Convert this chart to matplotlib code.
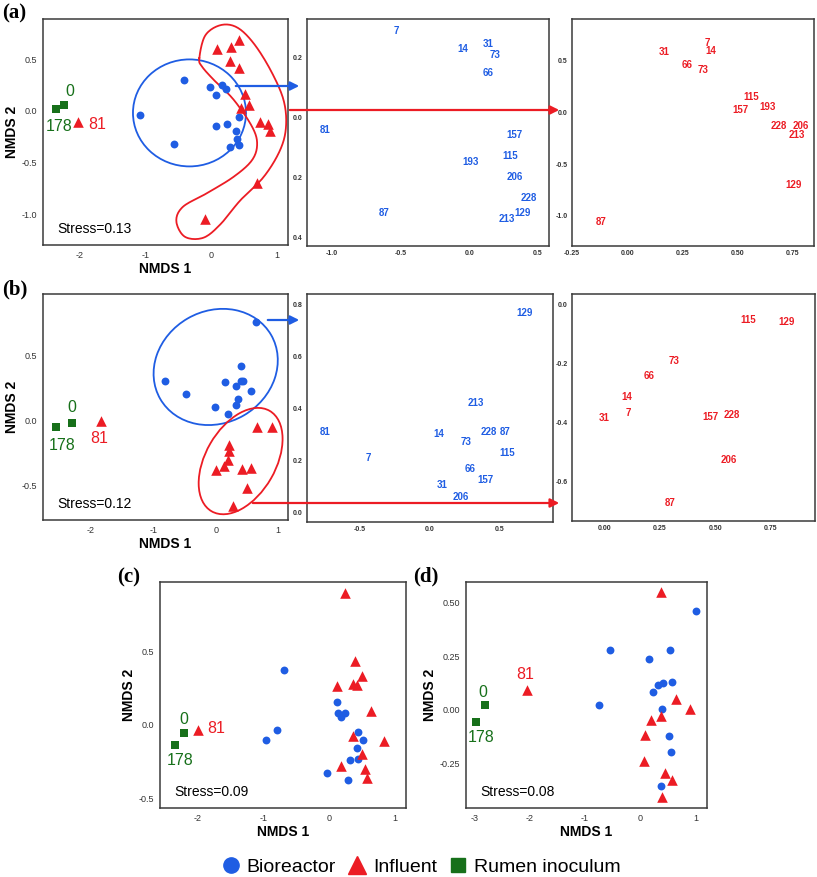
import numpy as np
import matplotlib
matplotlib.use('Agg')
import matplotlib.pyplot as plt
import matplotlib.transforms as mtrans
from matplotlib.patches import Ellipse, FancyArrowPatch
from matplotlib.lines import Line2D

plt.rcParams['font.family'] = ['Liberation Sans', 'DejaVu Sans']
plt.rcParams['axes.unicode_minus'] = False

BLUE = '#1f5de3'
RED = '#ec1c24'
GREEN = '#17701a'
DARK = '#333333'

# ---- (a) ordination of all samples
a_bio_x = [-1.08, -0.42, -0.56, -0.02, 0.07, 0.16, 0.23, 0.08, 0.24, 0.43, 0.38, 0.39, 0.43, 0.28]
a_bio_y = [-0.04, 0.30, -0.32, 0.23, 0.15, 0.25, 0.21, -0.15, -0.13, -0.06, -0.20, -0.27, -0.33, -0.35]
a_inf_x = [-2.03, 0.42, 0.09, 0.30, 0.29, 0.42, 0.52, 0.57, 0.45, 0.75, 0.86, 0.89, 0.70, -0.10]
a_inf_y = [-0.11, 0.69, 0.60, 0.62, 0.48, 0.42, 0.16, 0.06, 0.03, -0.11, -0.13, -0.20, -0.70, -1.05]
a_rum_x = [-2.24, -2.36]
a_rum_y = [0.055, 0.02]

# (a) bioreactor only, sample days
a_bio_ids = ['7', '14', '31', '73', '66', '81', '157', '193', '115', '206', '228', '87', '129', '213']
a_bio_lx = [-0.53, -0.05, 0.14, 0.19, 0.14, -1.05, 0.33, 0.01, 0.30, 0.33, 0.43, -0.62, 0.39, 0.27]
a_bio_ly = [0.29, 0.23, 0.245, 0.21, 0.15, -0.04, -0.06, -0.15, -0.13, -0.20, -0.27, -0.32, -0.32, -0.34]

# (a) influent only
a_inf_ids = ['7', '14', '31', '66', '73', '115', '157', '193', '228', '206', '213', '129', '87']
a_inf_lx = [0.363, 0.376, 0.165, 0.273, 0.345, 0.562, 0.513, 0.637, 0.688, 0.784, 0.769, 0.753, -0.12]
a_inf_ly = [0.67, 0.59, 0.58, 0.46, 0.41, 0.15, 0.02, 0.05, -0.13, -0.135, -0.22, -0.70, -1.06]

# ---- (b)
b_bio_x = [0.64, -0.81, -0.47, 0.41, 0.15, 0.32, 0.40, 0.44, 0.57, 0.35, 0.32, -0.005, 0.20]
b_bio_y = [0.76, 0.31, 0.205, 0.42, 0.30, 0.27, 0.31, 0.31, 0.23, 0.17, 0.125, 0.11, 0.056]
b_inf_x = [-1.84, 0.67, 0.91, 0.21, 0.22, 0.19, 0.14, 0.00, 0.42, 0.56, 0.50, 0.28]
b_inf_y = [-0.005, -0.044, -0.046, -0.185, -0.23, -0.30, -0.35, -0.38, -0.37, -0.36, -0.52, -0.66]
b_rum_x = [-2.30, -2.56]
b_rum_y = [-0.015, -0.046]

b_bio_ids = ['129', '213', '81', '14', '228', '87', '73', '7', '115', '66', '157', '31', '206']
b_bio_lx = [0.68, 0.33, -0.75, 0.06, 0.42, 0.54, 0.26, -0.44, 0.55, 0.29, 0.40, 0.09, 0.22]
b_bio_ly = [0.767, 0.42, 0.31, 0.30, 0.31, 0.31, 0.27, 0.21, 0.23, 0.167, 0.126, 0.106, 0.058]

b_inf_ids = ['115', '129', '73', '66', '14', '7', '31', '157', '228', '206', '87']
b_inf_lx = [0.648, 0.823, 0.315, 0.199, 0.10, 0.105, -0.003, 0.477, 0.574, 0.562, 0.295]
b_inf_ly = [-0.053, -0.06, -0.189, -0.241, -0.311, -0.367, -0.385, -0.379, -0.373, -0.525, -0.672]

# ---- (c)
c_bio_x = [-0.69, -0.79, -0.96, 0.116, 0.137, 0.177, 0.248, 0.445, 0.52, 0.42, 0.32, 0.445, -0.025, 0.29]
c_bio_y = [0.377, -0.036, -0.10, 0.157, 0.082, 0.052, 0.084, -0.048, -0.105, -0.157, -0.243, -0.23, -0.33, -0.38]
c_inf_x = [-1.99, 0.243, 0.395, 0.496, 0.121, 0.36, 0.42, 0.632, 0.37, 0.835, 0.506, 0.177, 0.55, 0.58]
c_inf_y = [-0.034, 0.90, 0.436, 0.336, 0.268, 0.277, 0.273, 0.095, -0.073, -0.109, -0.20, -0.282, -0.302, -0.364]
c_rum_x = [-2.20, -2.34]
c_rum_y = [-0.052, -0.136]

# ---- (d)
d_bio_x = [1.01, -0.54, 0.54, 0.163, 0.32, 0.42, 0.585, 0.23, -0.736, 0.404, 0.525, 0.56, 0.374]
d_bio_y = [0.46, 0.28, 0.276, 0.234, 0.113, 0.126, 0.129, 0.081, 0.019, 0.003, -0.123, -0.20, -0.357]
d_inf_x = [-2.05, 0.374, 0.65, 0.905, 0.374, 0.193, 0.09, 0.066, 0.452, 0.573, 0.398]
d_inf_y = [0.09, 0.551, 0.047, 0.002, -0.028, -0.05, -0.12, -0.242, -0.295, -0.331, -0.41]
d_rum_x = [-2.805, -2.97]
d_rum_y = [0.02, -0.06]

W, H = 817, 877
fig = plt.figure(figsize=(W / 100, H / 100), dpi=100)


def box(x0, y0, x1, y1):
    return fig.add_axes([x0 / W, 1 - y1 / H, (x1 - x0) / W, (y1 - y0) / H])


def frame(ax, small=False):
    for s in ax.spines.values():
        s.set_color('#3a3a3a')
        s.set_linewidth(1.1)
    if small:
        ax.tick_params(length=0, pad=3, labelsize=5, labelcolor=DARK)
        for lab in ax.get_xticklabels() + ax.get_yticklabels():
            lab.set_fontweight('bold')
    else:
        ax.tick_params(length=0, pad=4, labelsize=6.5, labelcolor=DARK)


def main_panel(ax, bx, by, ix, iy, rx, ry, stress):
    ax.scatter(bx, by, s=32, marker='o', color=BLUE, lw=0, zorder=3)
    ax.scatter(ix, iy, s=58, marker='^', color=RED, lw=0, zorder=3)
    ax.scatter(rx, ry, s=26, marker='s', color=GREEN, lw=0, zorder=3)
    ax.text(0.06, 0.07, stress, transform=ax.transAxes, fontsize=10, va='center')
    ax.set_xlabel('NMDS 1', fontsize=10, fontweight='bold', labelpad=2)
    ax.set_ylabel('NMDS 2', fontsize=10, fontweight='bold', labelpad=2)


def ring(ax, cx, cy, w, h, ang, col):
    # ellipse sized in pixels, centred on a data point
    tr = fig.dpi_scale_trans + mtrans.ScaledTranslation(cx, cy, ax.transData)
    ax.add_patch(Ellipse((0, 0), w / 100, h / 100, angle=ang, transform=tr,
                         fill=False, ec=col, lw=1.3, clip_on=False))


def smooth_loop(px, py, n=12):
    P = np.column_stack([px, py])
    m = len(P)
    out = []
    for i in range(m):
        p0, p1, p2, p3 = P[i - 1], P[i], P[(i + 1) % m], P[(i + 2) % m]
        for t in np.linspace(0, 1, n, endpoint=False):
            out.append(0.5 * (2 * p1 + (-p0 + p2) * t + (2 * p0 - 5 * p1 + 4 * p2 - p3) * t * t
                              + (-p0 + 3 * p1 - 3 * p2 + p3) * t ** 3))
    out.append(out[0])
    return np.array(out)


def arrow(x0, y0, x1, y1, col):
    fig.add_artist(FancyArrowPatch((x0 / W, 1 - y0 / H), (x1 / W, 1 - y1 / H),
                                   transform=fig.transFigure, arrowstyle='-|>',
                                   mutation_scale=13, color=col, lw=1.6, zorder=10))


def ids(ax, xs, ys, labels, col):
    for x, y, t in zip(xs, ys, labels):
        ax.text(x, y, t, color=col, fontsize=7, fontweight='bold', ha='center', va='center')


# ================= (a)
ax = box(43, 19, 288, 245)
main_panel(ax, a_bio_x, a_bio_y, a_inf_x, a_inf_y, a_rum_x, a_rum_y, 'Stress=0.13')
ax.set_xlim(-2.56, 1.17)
ax.set_ylim(-1.30, 0.89)
ax.set_xticks([-2, -1, 0, 1])
ax.set_yticks([-1.0, -0.5, 0.0, 0.5])
ax.text(-2.15, 0.19, '0', color=GREEN, fontsize=11.5, ha='center', va='center')
ax.text(-2.32, -0.15, '178', color=GREEN, fontsize=11.5, ha='center', va='center')
ax.text(-1.74, -0.13, '81', color=RED, fontsize=11.5, ha='center', va='center')
ring(ax, -0.33, -0.02, 113, 107, 0, BLUE)
bean_x = [-0.18, -0.09, 0.14, 0.39, 0.64, 0.90, 1.10, 1.14, 1.05, 0.80, 0.44, 0.14, -0.12, -0.40,
          -0.53, -0.43, -0.07, 0.34, 0.62, 0.70, 0.62, 0.34, 0.04, -0.14]
bean_y = [0.51, 0.73, 0.83, 0.81, 0.66, 0.40, 0.11, -0.15, -0.38, -0.64, -0.87, -1.10, -1.23, -1.22,
          -1.07, -0.93, -0.80, -0.64, -0.48, -0.32, -0.15, 0.11, 0.30, 0.43]
loop = smooth_loop(bean_x, bean_y)
ax.plot(loop[:, 0], loop[:, 1], color=RED, lw=1.3, clip_on=False)
frame(ax)

ax = box(307, 19, 549, 246)
ids(ax, a_bio_lx, a_bio_ly, a_bio_ids, BLUE)
ax.set_xlim(-1.18, 0.58)
ax.set_ylim(-0.43, 0.33)
ax.set_xticks([-1.0, -0.5, 0.0, 0.5])
ax.set_yticks([0.2, 0.0, -0.2, -0.4])
ax.set_yticklabels(['0.2', '0.0', '0.2', '0.4'])
frame(ax, small=True)

ax = box(572, 19, 814, 246)
ids(ax, a_inf_lx, a_inf_ly, a_inf_ids, RED)
ax.set_xlim(-0.25, 0.845)
ax.set_ylim(-1.29, 0.90)
ax.set_xticks([-0.25, 0.0, 0.25, 0.5, 0.75])
ax.set_yticks([-1.0, -0.5, 0.0, 0.5])
frame(ax, small=True)

arrow(233, 86, 302, 86, BLUE)
arrow(287, 110, 562, 110, RED)

# ================= (b)
ax = box(43, 294, 288, 520)
main_panel(ax, b_bio_x, b_bio_y, b_inf_x, b_inf_y, b_rum_x, b_rum_y, 'Stress=0.12')
ax.set_xlim(-2.77, 1.16)
ax.set_ylim(-0.764, 0.977)
ax.set_xticks([-2, -1, 0, 1])
ax.set_yticks([-0.5, 0.0, 0.5])
ax.text(-2.30, 0.10, '0', color=GREEN, fontsize=11.5, ha='center', va='center')
ax.text(-2.46, -0.19, '178', color=GREEN, fontsize=11.5, ha='center', va='center')
ax.text(-1.87, -0.14, '81', color=RED, fontsize=11.5, ha='center', va='center')
ring(ax, 0.0, 0.415, 128, 112, 30, BLUE)
ring(ax, 0.40, -0.31, 116, 70, 60, RED)
frame(ax)

ax = box(307, 294, 553, 522)
ids(ax, b_bio_lx, b_bio_ly, b_bio_ids, BLUE)
ax.set_xlim(-0.88, 0.88)
ax.set_ylim(-0.037, 0.84)
ax.set_xticks([-0.5, 0.0, 0.5])
ax.set_yticks([0.0, 0.2, 0.4, 0.6, 0.8])
frame(ax, small=True)

ax = box(572, 294, 815, 521)
ids(ax, b_inf_lx, b_inf_ly, b_inf_ids, RED)
ax.set_xlim(-0.148, 0.95)
ax.set_ylim(-0.732, 0.036)
ax.set_xticks([0.0, 0.25, 0.5, 0.75])
ax.set_yticks([-0.6, -0.4, -0.2, 0.0])
frame(ax, small=True)

arrow(265, 320, 302, 320, BLUE)
arrow(250, 503, 562, 503, RED)

# ================= (c)
ax = box(160, 582, 406, 808)
main_panel(ax, c_bio_x, c_bio_y, c_inf_x, c_inf_y, c_rum_x, c_rum_y, 'Stress=0.09')
ax.set_xlim(-2.57, 1.17)
ax.set_ylim(-0.568, 0.977)
ax.set_xticks([-2, -1, 0, 1])
ax.set_yticks([-0.5, 0.0, 0.5])
ax.text(-2.21, 0.034, '0', color=GREEN, fontsize=11.5, ha='center', va='center')
ax.text(-2.26, -0.24, '178', color=GREEN, fontsize=11.5, ha='center', va='center')
ax.text(-1.71, -0.027, '81', color=RED, fontsize=11.5, ha='center', va='center')
frame(ax)

# ================= (d)
ax = box(466, 582, 707, 808)
main_panel(ax, d_bio_x, d_bio_y, d_inf_x, d_inf_y, d_rum_x, d_rum_y, 'Stress=0.08')
ax.set_xlim(-3.15, 1.21)
ax.set_ylim(-0.46, 0.596)
ax.set_xticks([-3, -2, -1, 0, 1])
ax.set_yticks([-0.25, 0.0, 0.25, 0.5])
ax.text(-2.84, 0.082, '0', color=GREEN, fontsize=11.5, ha='center', va='center')
ax.text(-2.87, -0.132, '178', color=GREEN, fontsize=11.5, ha='center', va='center')
ax.text(-2.08, 0.163, '81', color=RED, fontsize=11.5, ha='center', va='center')
frame(ax)

# panel letters
for x, y, t in [(2, 3, '(a)'), (2, 279, '(b)'), (117, 567, '(c)'), (413, 566, '(d)')]:
    fig.text(x / W, 1 - y / H, t, fontsize=15, fontweight='bold', va='top',
             family=['Liberation Serif', 'DejaVu Serif'])

handles = [Line2D([], [], ls='', marker='o', ms=11, mfc=BLUE, mec=BLUE),
           Line2D([], [], ls='', marker='^', ms=13, mfc=RED, mec=RED),
           Line2D([], [], ls='', marker='s', ms=10, mfc=GREEN, mec=GREEN)]
fig.legend(handles, ['Bioreactor', 'Influent', 'Rumen inoculum'], loc='center',
           bbox_to_anchor=(0.514, 0.011), ncol=3, frameon=False, fontsize=14,
           handletextpad=0.2, columnspacing=0.5, handlelength=1.2)

fig.savefig('out.png', dpi=100)
